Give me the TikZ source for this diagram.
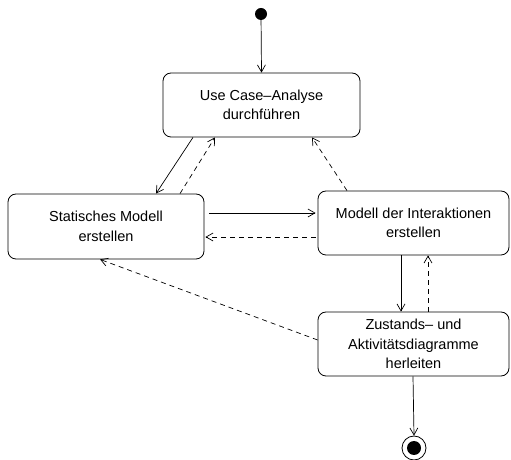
\documentclass[tikz,border=0pt]{standalone}
\usepackage{fontspec}
\setmainfont{Liberation Sans}
\usetikzlibrary{arrows.meta}
\begin{document}
\begin{tikzpicture}[x=1pt,y=1pt,
  state/.style={draw,rounded corners=8pt,line width=0.8pt,align=center,
    font=\fontsize{14.5}{19.5}\selectfont,inner sep=0pt},
  flow/.style={line width=0.7pt,-{Straight Barb[length=7pt,width=8pt]}},
  back/.style={flow,dash pattern=on 5pt off 4pt}]
\useasboundingbox (0,0) rectangle (511,460);
\node[circle,fill=black,minimum size=12pt,inner sep=0pt] (start) at (261,446) {};
\node[state,minimum width=197pt,minimum height=64pt] (uc) at (261.5,355) {Use Case--Analyse\\durchführen};
\node[state,minimum width=196pt,minimum height=65pt] (st) at (106,233.5) {Statisches Modell\\erstellen};
\node[state,minimum width=191pt,minimum height=64pt] (mi) at (413.5,237) {Modell der Interaktionen\\erstellen};
\node[state,minimum width=191pt,minimum height=64pt] (zu) at (413.5,116) {Zustands-- und\\Aktivitätsdiagramme\\herleiten};
\node[circle,draw,line width=0.8pt,minimum size=24pt,inner sep=0pt] (end) at (414,12) {};
\node[circle,fill=black,minimum size=14pt,inner sep=0pt] (endin) at (end.center) {};
\draw[flow] (start) -- (uc.north);
\draw[flow] ([xshift=-68.5pt]uc.south) -- ([xshift=50pt]st.north);
\draw[back] ([xshift=74pt]st.north) -- ([xshift=-46.5pt]uc.south);
\draw[back] ([xshift=-66.5pt]mi.north) -- ([xshift=50.5pt]uc.south);
\draw[flow] ([shift={(5pt,13.5pt)}]st.east) -- ([shift={(-2pt,10pt)}]mi.west);
\draw[back] ([shift={(-2pt,-14pt)}]mi.west) -- ([shift={(1pt,-10.5pt)}]st.east);
\draw[flow] ([xshift=-12.5pt]mi.south) -- ([xshift=-12.5pt]zu.north);
\draw[back] ([xshift=14.5pt]zu.north) -- ([xshift=14.5pt]mi.south);
\draw[back] ([yshift=4pt]zu.west) -- ([xshift=-6pt]st.south);
\draw[flow] ([xshift=-0.5pt]zu.south) -- (end.north);
\end{tikzpicture}
\end{document}
